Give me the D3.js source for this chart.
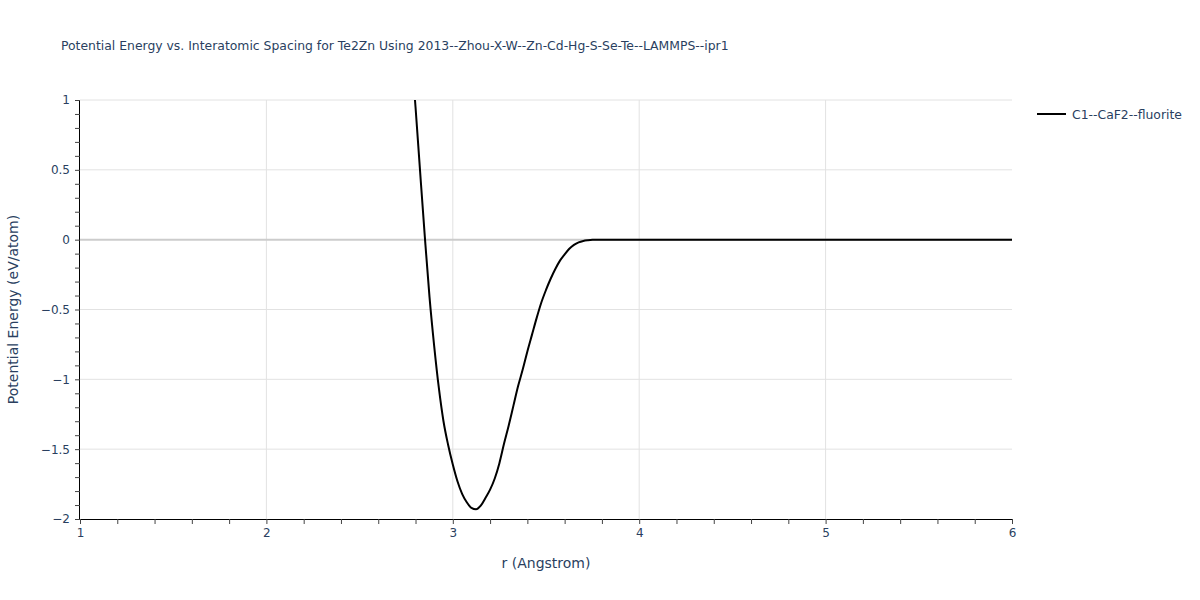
<!DOCTYPE html>
<html>
<head>
<meta charset="utf-8">
<script src="https://cdn.jsdelivr.net/npm/d3@7"></script>
<style>
  body { margin: 0; background: #fff; }
  svg { font-family: "DejaVu Sans", Verdana, sans-serif; }
</style>
</head>
<body>
<svg id="chart" width="1200" height="600"></svg>
<script>
const titleText = "Potential Energy vs. Interatomic Spacing for Te2Zn Using 2013--Zhou-X-W--Zn-Cd-Hg-S-Se-Te--LAMMPS--ipr1";
const seriesName = "C1--CaF2--fluorite";
const xLabel = "r (Angstrom)";
const yLabel = "Potential Energy (eV/atom)";

const rValues = [2.78, 2.80, 2.825, 2.85, 2.875, 2.90, 2.925, 2.95, 2.975, 3.00, 3.025, 3.05, 3.075, 3.10, 3.125,
  3.15, 3.175, 3.20, 3.225, 3.25, 3.275, 3.30, 3.325, 3.35, 3.375, 3.40, 3.425, 3.45, 3.475, 3.50,
  3.525, 3.55, 3.575, 3.60, 3.625, 3.65, 3.675, 3.70, 3.725, 3.75, 3.775, 3.80, 4.0, 4.5, 5.0, 5.5, 6.0];
const energyValues = [1.30, 0.95, 0.48, 0.02, -0.41, -0.76, -1.06, -1.30, -1.47, -1.61, -1.73, -1.82, -1.88, -1.92, -1.93,
  -1.905, -1.85, -1.79, -1.71, -1.60, -1.46, -1.33, -1.19, -1.05, -0.93, -0.80, -0.68, -0.56, -0.45, -0.36,
  -0.28, -0.21, -0.15, -0.105, -0.065, -0.037, -0.019, -0.009, -0.004, -0.001, 0, 0, 0, 0, 0, 0, 0];

const xMajorTicks = [1, 2, 3, 4, 5, 6];
const yMajorTicks = [1, 0.5, 0, -0.5, -1, -1.5, -2];

const svg = d3.select("#chart");
const mLeft = 80, mRight = 1012, mTop = 100, mBottom = 519;
const x = d3.scaleLinear().domain([1, 6]).range([mLeft, mRight]);
const y = d3.scaleLinear().domain([-2, 1]).range([mBottom, mTop]);
const textColor = "#2a3f5f";

// grid
svg.append("g").selectAll("line").data(xMajorTicks.filter(d => d > 1 && d < 6)).join("line")
  .attr("x1", d => x(d)).attr("x2", d => x(d)).attr("y1", mTop).attr("y2", mBottom)
  .attr("stroke", "#e2e2e2").attr("stroke-width", 1);
svg.append("g").selectAll("line").data(yMajorTicks.filter(d => d !== 0 && d !== -2)).join("line")
  .attr("x1", mLeft).attr("x2", mRight).attr("y1", d => y(d)).attr("y2", d => y(d))
  .attr("stroke", "#e2e2e2").attr("stroke-width", 1);
// zero line
svg.append("line").attr("x1", mLeft).attr("x2", mRight).attr("y1", y(0)).attr("y2", y(0))
  .attr("stroke", "#cccccc").attr("stroke-width", 2);

// clip
svg.append("clipPath").attr("id", "clip").append("rect")
  .attr("x", mLeft).attr("y", mTop).attr("width", mRight - mLeft).attr("height", mBottom - mTop);

const data = rValues.map((r, i) => ({ r, e: energyValues[i] }));
const line = d3.line().x(d => x(d.r)).y(d => y(d.e)).curve(d3.curveMonotoneX);
svg.append("path").datum(data).attr("clip-path", "url(#clip)")
  .attr("d", line).attr("fill", "none").attr("stroke", "#000").attr("stroke-width", 2);

// axes
const xAxis = d3.axisBottom(x).tickValues(d3.range(1, 6.001, 0.2)).tickSize(5)
  .tickFormat(d => (Math.abs(d - Math.round(d)) < 1e-6 ? d3.format("d")(Math.round(d)) : ""));
const gx = svg.append("g").attr("transform", `translate(0,${mBottom})`).call(xAxis);
gx.select(".domain").attr("stroke", "#000").attr("d", `M${mLeft},0.5H${mRight}`);
gx.selectAll(".tick line").attr("stroke", "#444");
gx.selectAll(".tick text").attr("fill", textColor).attr("font-size", 12).attr("dy", "0.71em").attr("y", 9)
  .attr("font-family", "DejaVu Sans");

const fmtY = d => {
  const s = d3.format("")(Math.round(d * 10) / 10);
  return s.replace("-", "\u2212");
};
const yAxis = d3.axisLeft(y).tickValues(d3.range(-20, 10.5, 1).map(v => v / 10)).tickSize(5)
  .tickFormat(d => (Math.abs(d * 2 - Math.round(d * 2)) < 1e-6 ? fmtY(d) : ""));
const gy = svg.append("g").attr("transform", `translate(${mLeft},0)`).call(yAxis);
gy.select(".domain").attr("stroke", "#000").attr("d", `M-0.5,${mTop}V${mBottom}`);
gy.selectAll(".tick line").attr("stroke", "#444");
gy.selectAll(".tick text").attr("fill", textColor).attr("font-size", 12).attr("x", -10)
  .attr("font-family", "DejaVu Sans");

// title
svg.append("text").attr("x", 61).attr("y", 50).attr("fill", textColor)
  .attr("font-size", 12.4).text(titleText);

// axis titles
svg.append("text").attr("x", (mLeft + mRight) / 2).attr("y", 568).attr("text-anchor", "middle")
  .attr("fill", textColor).attr("font-size", 14).text(xLabel);
svg.append("text").attr("transform", `translate(18,${(mTop + mBottom) / 2}) rotate(-90)`)
  .attr("text-anchor", "middle").attr("fill", textColor).attr("font-size", 14).text(yLabel);

// legend
const lg = svg.append("g").attr("transform", "translate(1037,114)");
lg.append("line").attr("x1", 0).attr("x2", 29).attr("y1", 0).attr("y2", 0)
  .attr("stroke", "#000").attr("stroke-width", 2);
lg.append("text").attr("x", 35).attr("y", 4.5).attr("fill", textColor).attr("font-size", 12.4).text(seriesName);
</script>
</body>
</html>
